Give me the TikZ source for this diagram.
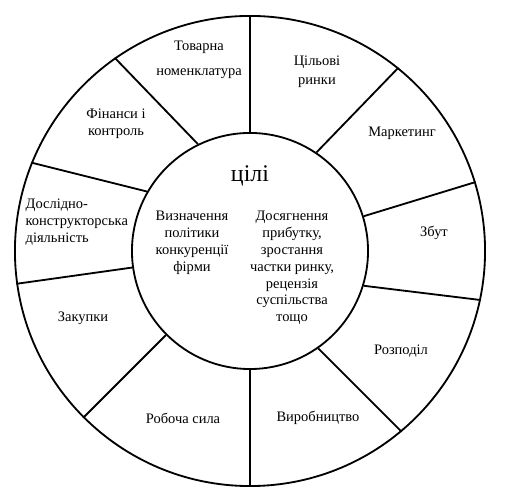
\documentclass[tikz,border=0pt]{standalone}
\usepackage{fontspec}
\setmainfont{Liberation Serif}
\usetikzlibrary{positioning}

\begin{document}
\begin{tikzpicture}[
    x=0.025cm, y=0.025cm,
    font=\fontsize{10.3}{12}\selectfont,
    ring/.style={
        draw=black,
        circle,
        line width=1.3pt,
        inner sep=0pt
    },
    area/.style={
        align=center,
        inner sep=1pt
    },
    divider/.style={line width=1.3pt}
]
\useasboundingbox (-250,-253) rectangle (258,251);

% the two rings
\node[ring, minimum size=11.75cm] (outer) at (0,0) {};
\node[ring, minimum size=5.9cm] (goals) at (0,0) {};

% dividers between the sectors
\draw[divider] (goals.90)   -- (outer.90);
\draw[divider] (goals.56)   -- (outer.51);
\draw[divider] (goals.17)   -- (outer.17);
\draw[divider] (goals.-17)  -- (outer.-12);
\draw[divider] (goals.-55)  -- (outer.-50);
\draw[divider] (goals.-90)  -- (outer.-90);
\draw[divider] (goals.225)  -- (outer.225);
\draw[divider] (goals.188)  -- (outer.188);
\draw[divider] (goals.150)  -- (outer.158);
\draw[divider] (goals.116)  -- (outer.125);

% centre
\node[area, font=\fontsize{17}{20}\selectfont] (title) at (0,75) {цілі};
\node[area] (policy) at (-58,8)
{Визначення\\ політики\\ конкуренції\\ фірми};
\node[area] (aims) at (42,-17)
{Досягнення\\ прибутку,\\ зростання\\ частки ринку,\\ рецензія\\ суспільства\\ тощо};

% sectors
\node[area] (range) at (-51,191) {Товарна\\[6pt] номенклатура};
\node[area] (markets) at (67,179) {Цільові\\[1.5pt] ринки};
\node[area] (marketing) at (152,118) {Маркетинг};
\node[area] (sales) at (184,18) {Збут};
\node[area] (distrib) at (151,-100) {Розподіл};
\node[area] (production) at (68,-167) {Виробництво};
\node[area] (labour) at (-67,-167) {Робоча сила};
\node[area] (purchase) at (-167,-67) {Закупки};
\node[area, align=left, anchor=west] (research) at (-226,29)
{Дослідно-\\ конструкторська\\ діяльність};
\node[area] (finance) at (-134,127) {Фінанси і\\ контроль};

\end{tikzpicture}
\end{document}
